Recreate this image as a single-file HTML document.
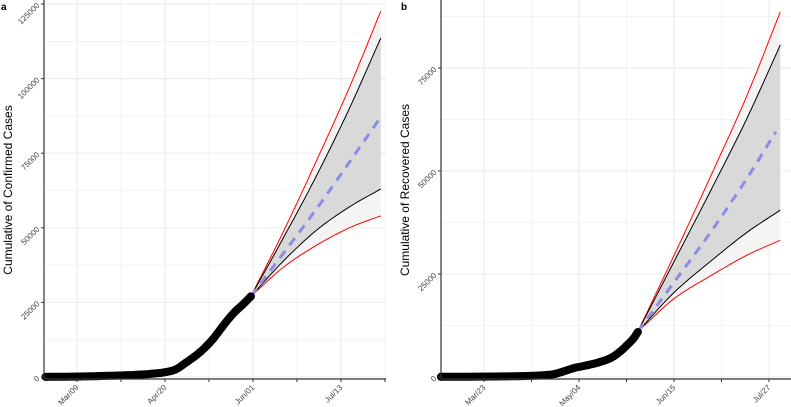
<!DOCTYPE html>
<html><head><meta charset="utf-8"><style>
html,body{margin:0;padding:0;background:#fff;}
svg{display:block;font-family:"Liberation Sans",sans-serif;}
</style></head><body>
<svg id="chart" width="791" height="407" viewBox="0 0 791 407"></svg>
<script>
// ---------- Panel a: confirmed ----------
const aTickLabels = ["Mar/09","Apr/20","Jun/01","Jul/13"];
const aTickDays = [0,42,84,126];
const aYTicks = [0,25000,50000,75000,100000,125000];
const aObsDays = [-15,0,10,20,30,36,42,47,52,56,59,62,65,69,73,76,79,83];
const aObsVals = [50,150,300,500,800,1100,1600,2500,4800,6800,8500,10500,12800,16500,20000,22300,24200,27000];
const aProjDays = [83,98,114,130,145];
const aUpperRed = [27000,48000,72000,97000,122600];
const aUpperBlack = [27000,46000,67000,90000,113600];
const aMean = [27000,41000,56000,72000,87100];
const aLowerBlack = [27000,38500,49000,57000,63000];
const aLowerRed = [27000,36500,44000,50000,54000];

// ---------- Panel b: recovered ----------
const bTickLabels = ["Mar/23","May/04","Jun/15","Jul/27"];
const bTickDays = [0,42,84,126];
const bYTicks = [0,25000,50000,75000];
const bObsDays = [-19,0,15,25,31,36,40,46,51,56,60,63,66,68];
const bObsVals = [50,100,200,400,700,1500,2200,2900,3600,4600,6100,7600,9300,10900];
const bProjDays = [68,84,100,116,131];
const bUpperRed = [11000,29500,48500,68000,88600];
const bUpperBlack = [11000,28000,45000,62500,80600];
const bMeanDays = [68,84,100,116,129];
const bMean = [11000,23000,35000,48000,59500];
const bLowerBlack = [11000,20500,28000,35000,40500];
const bLowerRed = [11000,19000,24500,29500,33200];

const NS="http://www.w3.org/2000/svg";
const svg=document.getElementById('chart');
function mk(tag,attrs,parent){const e=document.createElementNS(NS,tag);for(const k in attrs)e.setAttribute(k,attrs[k]);(parent||svg).appendChild(e);return e;}

function smooth(xs,ys,n){
  const out=[];
  for(let i=0;i<xs.length-1;i++){
    const x0=xs[Math.max(i-1,0)],y0=ys[Math.max(i-1,0)],x1=xs[i],y1=ys[i],x2=xs[i+1],y2=ys[i+1],x3=xs[Math.min(i+2,xs.length-1)],y3=ys[Math.min(i+2,ys.length-1)];
    const m1=(y2-y0)/((x2-x0)||1),m2=(y3-y1)/((x3-x1)||1);
    const h=x2-x1;
    for(let s=0;s<n;s++){const t=s/n;const t2=t*t,t3=t2*t;
      const y=(2*t3-3*t2+1)*y1+(t3-2*t2+t)*h*m1+(-2*t3+3*t2)*y2+(t3-t2)*h*m2;
      out.push([x1+t*h,y]);}
  }
  out.push([xs[xs.length-1],ys[ys.length-1]]);
  return out;
}

function panel(cfg){
  const g=mk('g',{});
  
  
  const X=d=>cfg.x0+d*cfg.pxDay;
  const Y=v=>cfg.yBottom-(v/cfg.yMax)*(cfg.yBottom-cfg.yTop);
  const grid=mk('g',{},g);
  
  
  for(let v=0;v<=cfg.yMax;v+=12500){mk('line',{x1:cfg.left,x2:cfg.right,y1:Y(v),y2:Y(v),stroke:'#ebebeb','stroke-width':(v%25000===0)?1:0.6},grid);}
  for(let d=-21;d<=cfg.maxDay+5;d+=21){const x=X(d);if(x<cfg.left||x>cfg.right)continue;mk('line',{x1:x,x2:x,y1:0,y2:cfg.yBottom+2,stroke:'#ebebeb','stroke-width':(d%42===0)?1:0.6},grid);}
  function band(up,lo,days,fill,nm){
    const a=smooth(days,up,8),b=smooth(days,lo,8).reverse();
    const pts=a.concat(b).map(p=>X(p[0]).toFixed(1)+','+Y(p[1]).toFixed(1)).join(' ');
    const p=mk('polygon',{points:pts,fill:fill},g);
    
    
  }
  band(cfg.ur,cfg.ub,cfg.pd,'#f4f4f4','outer-band-upper');
  band(cfg.lb,cfg.lr,cfg.pd,'#f4f4f4','outer-band-lower');
  band(cfg.ub,cfg.lb,cfg.pd,'#d9d9d9','inner-band');
  function line(days,vals,stroke,w,nm,dash){
    const pts=smooth(days,vals,8).map(p=>X(p[0]).toFixed(1)+','+Y(p[1]).toFixed(1)).join(' ');
    const a={points:pts,fill:'none',stroke:stroke,'stroke-width':w};
    if(dash)a['stroke-dasharray']=dash;
    const p=mk('polyline',a,g);
    
    
  }
  line(cfg.pd,cfg.ur,'#ff0000',1,'upper-red-line');
  line(cfg.pd,cfg.lr,'#ff0000',1,'lower-red-line');
  line(cfg.pd,cfg.ub,'#000',1,'upper-black-line');
  line(cfg.pd,cfg.lb,'#000',1,'lower-black-line');
  line(cfg.md,cfg.mean,'#8c8ce6',3,'mean-forecast-line','9,7');
  const obs=smooth(cfg.od,cfg.ov,6);
  const op=mk('polyline',{points:obs.map(p=>X(p[0]).toFixed(1)+','+Y(p[1]).toFixed(1)).join(' '),fill:'none',stroke:'#000','stroke-width':8,'stroke-linecap':'round','stroke-linejoin':'round'},g);
  
  
  for(let i=0;i<cfg.od.length;i++){const c=mk('circle',{cx:X(cfg.od[i]),cy:Y(cfg.ov[i]),r:4,fill:'#000'},g);
    
    }
  const ax=mk('line',{x1:cfg.left,x2:cfg.left,y1:0,y2:cfg.yBottom+2,stroke:'#333','stroke-width':1.2},g);
  
  
  const bx=mk('line',{x1:cfg.left,x2:cfg.right,y1:cfg.yBottom+2,y2:cfg.yBottom+2,stroke:'#333','stroke-width':1.2},g);
  
  
  cfg.yTicks.forEach(v=>{
    const y=Y(v);
    mk('line',{x1:cfg.left-3,x2:cfg.left,y1:y,y2:y,stroke:'#333'},g);
    const t=mk('text',{x:cfg.left-4,y:y+2,'font-size':8,fill:'#444','text-anchor':'end',transform:`rotate(-45 ${cfg.left-4} ${y+2})`},g);
    t.textContent=v;
    
    
  });
  for(let d=-21;d<=cfg.maxDay+5;d+=21){const x=X(d);if(x<cfg.left||x>cfg.right)continue;mk('line',{x1:x,x2:x,y1:cfg.yBottom+2,y2:cfg.yBottom+5,stroke:'#333'},g);}
  cfg.tickDays.forEach((d,i)=>{
    const x=X(d);
    const t=mk('text',{x:x+2,y:cfg.yBottom+11,'font-size':8,fill:'#444','text-anchor':'end',transform:`rotate(-45 ${x+2} ${cfg.yBottom+11})`},g);
    t.textContent=cfg.tickLabels[i];
    
    
  });
  const yt=mk('text',{x:cfg.titleX,y:190,'font-size':12,fill:'#000','text-anchor':'middle',transform:`rotate(-90 ${cfg.titleX} 190)`},g);
  yt.textContent=cfg.title;
  
  
  const pl=mk('text',{x:cfg.labelX,y:10,'font-size':10,'font-weight':'bold',fill:'#000'},g);
  pl.textContent=cfg.label;
  
  
}

panel({name:'panel-a-confirmed',x0:77,pxDay:2.095,left:44,right:386,yTop:4,yBottom:377,yMax:125000,maxDay:145,
  ur:aUpperRed,ub:aUpperBlack,lb:aLowerBlack,lr:aLowerRed,pd:aProjDays,md:aProjDays,mean:aMean,od:aObsDays,ov:aObsVals,
  yTicks:aYTicks,tickDays:aTickDays,tickLabels:aTickLabels,title:'Cumulative of Confirmed Cases',titleX:12,label:'a',labelX:1});
panel({name:'panel-b-recovered',x0:484,pxDay:2.262,left:441,right:791,yTop:0,yBottom:377,yMax:91500,maxDay:131,
  ur:bUpperRed,ub:bUpperBlack,lb:bLowerBlack,lr:bLowerRed,pd:bProjDays,md:bMeanDays,mean:bMean,od:bObsDays,ov:bObsVals,
  yTicks:bYTicks,tickDays:bTickDays,tickLabels:bTickLabels,title:'Cumulative of Recovered Cases',titleX:409,label:'b',labelX:401});
</script>
</body></html>
